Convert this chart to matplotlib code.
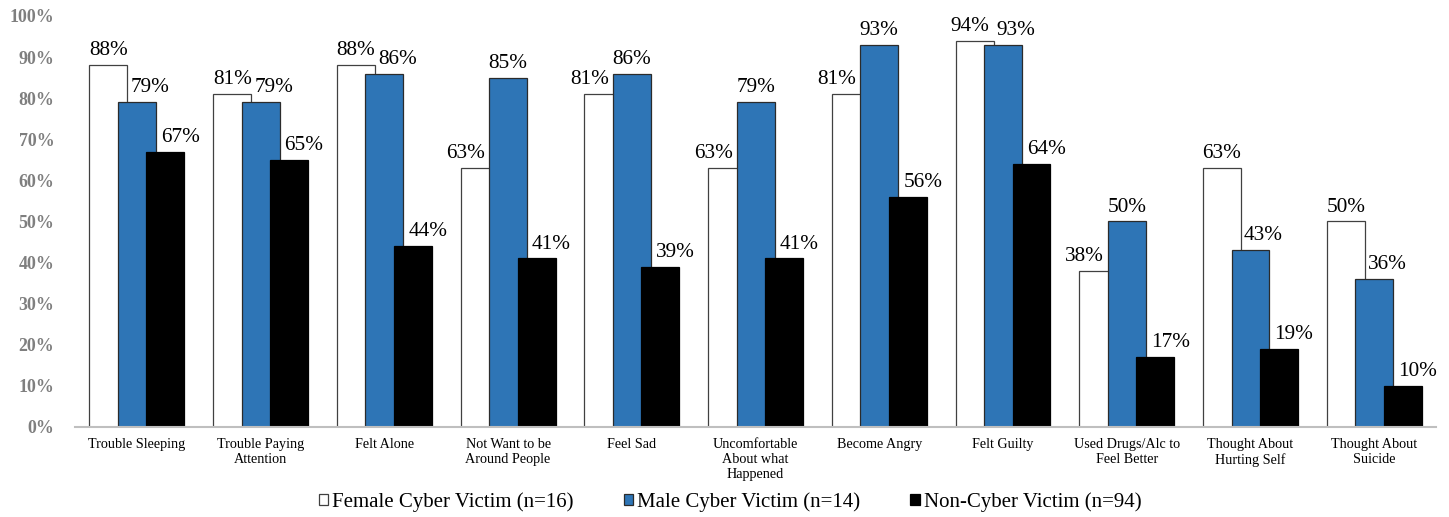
import numpy as np
import matplotlib
matplotlib.use('Agg')
import matplotlib.pyplot as plt

# Data
categories = ['Trouble Sleeping', 'Trouble Paying\nAttention', 'Felt Alone',
              'Not Want to be\nAround People', 'Feel Sad', 'Uncomfortable\nAbout what\nHappened',
              'Become Angry', 'Felt Guilty', 'Used Drugs/Alc to\nFeel Better',
              'Thought About\nHurting Self', 'Thought About\nSuicide']
female = [88, 81, 88, 63, 81, 63, 81, 94, 38, 63, 50]
male = [79, 79, 86, 85, 86, 79, 93, 93, 50, 43, 36]
noncyber = [67, 65, 44, 41, 39, 41, 56, 64, 17, 19, 10]
series_names = ['Female Cyber Victim (n=16)', 'Male Cyber Victim (n=14)', 'Non-Cyber Victim (n=94)']

plt.rcParams['font.family'] = ['Liberation Serif', 'DejaVu Serif']

fig = plt.figure(figsize=(14.49, 5.17), dpi=100)
ax = fig.add_axes([0.0518, 0.1741, 0.9393, 0.795])

x = np.arange(len(categories))
w = 0.307
step = 0.23

b1 = ax.bar(x - step, female, w, color='white', edgecolor='#404040', linewidth=0.9,
            label=series_names[0], zorder=2)
b2 = ax.bar(x, male, w, color='#2E75B6', edgecolor='#2b2b2b', linewidth=0.9,
            label=series_names[1], zorder=3)
b3 = ax.bar(x + step, noncyber, w, color='black', edgecolor='black', linewidth=0.9,
            label=series_names[2], zorder=4)

# data labels, nudged sideways like the original when neighbours collide
for i in range(len(categories)):
    if male[i] > female[i]:
        dx_f = -14
    elif female[i] - male[i] < 1.5:
        dx_f = -5
    else:
        dx_f = 0
    dx_m = 13 if female[i] > male[i] else 0
    dx_n = 15
    for xv, v, dx in [(x[i] - step, female[i], dx_f), (x[i], male[i], dx_m),
                      (x[i] + step, noncyber[i], dx_n)]:
        ax.annotate(f'{v}%', (xv, v), xytext=(dx * 0.72, 3.5), textcoords='offset points',
                    ha='center', va='bottom', fontsize=15.3, color='black', zorder=5)

ax.set_xlim(-0.5, len(categories) - 0.5)
ax.set_ylim(0, 100)
ax.set_yticks(np.arange(0, 101, 10))
ax.set_yticklabels([f'{t}%' for t in range(0, 101, 10)], fontsize=12.9,
                   fontweight='bold', color='#7F7F7F')
ax.set_xticks(x)
ax.set_xticklabels(categories, fontsize=10.2, linespacing=1.2, va='top')
ax.tick_params(axis='y', length=0, pad=15)
ax.tick_params(axis='x', length=0, pad=8)

for s in ['top', 'right', 'left']:
    ax.spines[s].set_visible(False)
ax.spines['bottom'].set_color('#BFBFBF')
ax.spines['bottom'].set_linewidth(1.5)
ax.spines['bottom'].set_zorder(6)

fig.legend(handles=[b1, b2, b3], loc='center', bbox_to_anchor=(730 / 1449, 1 - 502 / 517),
           ncol=3, frameon=False, fontsize=15, handlelength=0.45, handleheight=0.45,
           handletextpad=0.2, columnspacing=2.4, borderpad=0)

fig.savefig('out.png', dpi=100)
